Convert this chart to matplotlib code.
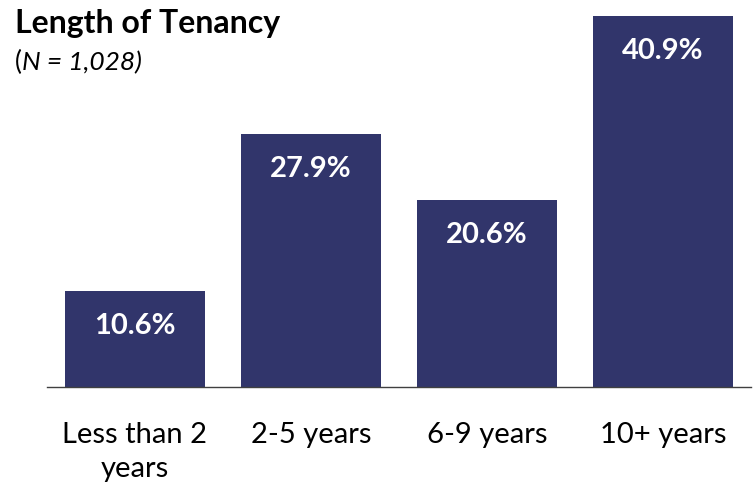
import matplotlib.pyplot as plt

categories = ['Less than 2\nyears', '2-5 years', '6-9 years', '10+ years']
values = [10.6, 27.9, 20.6, 40.9]
labels = ['10.6%', '27.9%', '20.6%', '40.9%']

bar_color = '#31356b'
plt.rcParams['font.family'] = ['Lato', 'DejaVu Sans']

fig = plt.figure(figsize=(7.53, 4.9), dpi=100)
# axes: x 47..751 px, y 16..387 px from top
ax = fig.add_axes([47/753, 1 - 387/490, 704/753, 371/490])

x = range(len(values))
bars = ax.bar(x, values, width=0.795, color=bar_color)
for b, lab in zip(bars, labels):
    ax.annotate(lab, (b.get_x() + b.get_width()/2, b.get_height()),
                xytext=(0, -25), textcoords='offset points',
                ha='center', va='center', color='white',
                fontsize=21, fontweight='bold')

ax.set_xlim(-0.5, 3.5)
ax.set_ylim(0, 40.9)
ax.set_xticks(list(x))
ax.set_xticklabels(categories, fontsize=21, linespacing=1.4)
ax.tick_params(axis='x', length=0, pad=25)
ax.set_yticks([])
for s in ['left', 'right', 'top']:
    ax.spines[s].set_visible(False)
ax.spines['bottom'].set_color('#404040')
ax.spines['bottom'].set_linewidth(1.0)

t = fig.text(15/753, 1 - 24/490, 'Length of Tenancy', fontsize=23,
             fontweight='bold', va='center', ha='left')
p = fig.text(15/753, 1 - 62/490, '(', fontsize=19, va='center', ha='left')
ax.annotate('N = 1,028)', xy=(1, 0), xycoords=p, xytext=(0, 0),
            textcoords='offset points', fontsize=19, style='italic',
            va='bottom', ha='left')

fig.savefig('out.png', dpi=100)
